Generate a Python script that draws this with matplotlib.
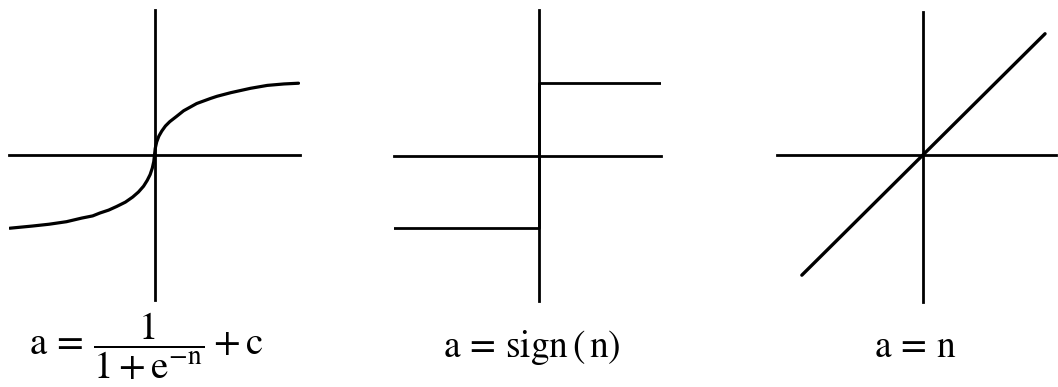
import numpy as np
import matplotlib.pyplot as plt

plt.rcParams['mathtext.fontset'] = 'stix'
plt.rcParams['font.family'] = ['Liberation Serif', 'DejaVu Serif']

# Panel 1: saturating curve (data units)
curve_n = [-1.99, -1.68, -1.45, -1.21, -1.0, -0.85, -0.75, -0.63, -0.52, -0.40,
           -0.30, -0.22, -0.15, -0.10, -0.06, -0.03, -0.01, 0.0,
           0.01, 0.03, 0.06, 0.10, 0.15, 0.21, 0.30, 0.40, 0.49, 0.58,
           0.77, 0.86, 1.05, 1.32, 1.55, 1.78, 1.98]
curve_a = [-1.01, -0.98, -0.955, -0.92, -0.87, -0.84, -0.80, -0.76, -0.71, -0.65,
           -0.58, -0.51, -0.43, -0.35, -0.27, -0.18, -0.09, 0.0,
           0.09, 0.18, 0.26, 0.33, 0.40, 0.46, 0.53, 0.61, 0.66, 0.71,
           0.78, 0.81, 0.86, 0.92, 0.96, 0.98, 0.99]

# Panel 2: sign function
step_n = [-2.0, 0.0, 0.0, 1.68]
step_a = [-1.0, -1.0, 1.0, 1.0]

# Panel 3: identity line
line_n = [-1.66, 1.67]
line_a = [-1.66, 1.67]

labels = [r'$\mathrm{a}\,=\,\dfrac{1}{1 + \mathrm{e}^{-\mathrm{n}}} + \mathrm{c}$',
          r'$\mathrm{a}\,=\,\mathrm{sign}\,(\,\mathrm{n})$',
          r'$\mathrm{a}\,=\,\mathrm{n}$']

W, H = 1058, 387
fig = plt.figure(figsize=(W / 100, H / 100), dpi=100)


def make_axes(x0, x1, y0, y1, xlim, ylim):
    # pixel box (top-down) -> figure fractions
    ax = fig.add_axes([x0 / W, (H - y1) / H, (x1 - x0) / W, (y1 - y0) / H])
    ax.set_xlim(*xlim)
    ax.set_ylim(*ylim)
    for side in ['top', 'right']:
        ax.spines[side].set_visible(False)
    for side in ['left', 'bottom']:
        ax.spines[side].set_position('zero')
        ax.spines[side].set_linewidth(2.0)
        ax.spines[side].set_color('black')
    ax.set_xticks([])
    ax.set_yticks([])
    ax.patch.set_visible(False)
    return ax


ax1 = make_axes(9, 300, 10, 300, (-2.0, 2.0), (-2.0, 2.0))
ax1.plot(curve_n, curve_a, color='black', lw=2.3, solid_capstyle='round',
         solid_joinstyle='round')

ax2 = make_axes(394, 661, 10, 301, (-2.0, 1.68), (-2.0, 2.0))
ax2.plot(step_n, step_a, color='black', lw=2.0)

ax3 = make_axes(777, 1056, 12, 302, (-2.0, 1.82), (-2.03, 1.97))
ax3.plot(line_n, line_a, color='black', lw=2.4, solid_capstyle='round')

fs = 27
fig.text(146 / W, 1 - 346 / H, labels[0], ha='center', va='center', fontsize=28)
fig.text(532 / W, 1 - 357 / H, labels[1], ha='center', va='baseline', fontsize=fs)
fig.text(915 / W, 1 - 357 / H, labels[2], ha='center', va='baseline', fontsize=fs)

fig.savefig('out.png', dpi=100, facecolor='white')
